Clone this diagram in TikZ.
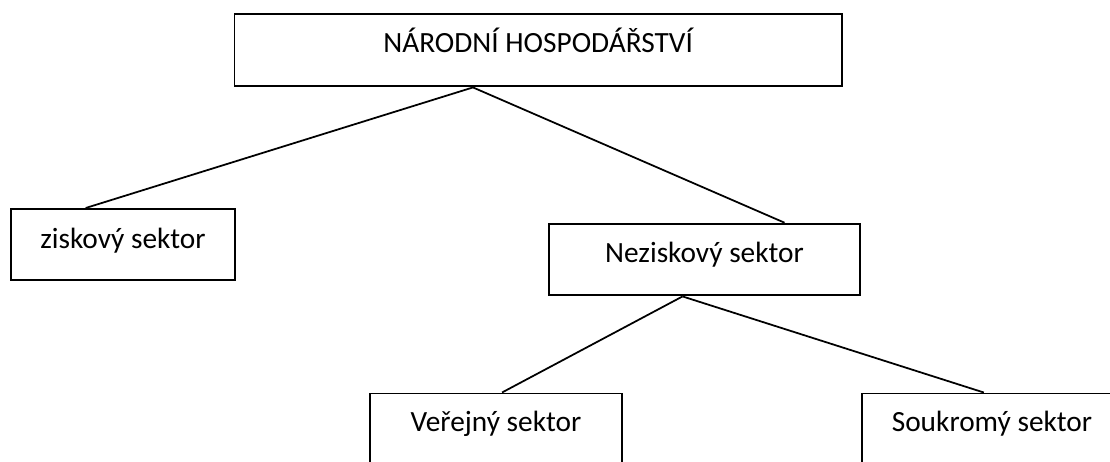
\documentclass[tikz,border=0pt]{standalone}
\usepackage{fontspec}
\setmainfont{Carlito}
\usetikzlibrary{calc}
\tikzset{
  sektor/.style={draw, line width=1.1pt, inner sep=0pt, anchor=north west,
    font=\fontsize{16.7}{20}\selectfont},
  vazba/.style={line width=1pt}
}
\begin{document}
\begin{tikzpicture}[x=0.02cm, y=-0.02cm]
  \useasboundingbox (0,0) rectangle (1110,461);
  \clip (0,0) rectangle (1110,461); % lower boxes run off the page
  \node[sektor, minimum width=12.15cm, text height=0.78cm, text depth=0.676cm] (narodni) at (233.5,12.7) {NÁRODNÍ HOSPODÁŘSTVÍ};
  \node[sektor, minimum width=4.48cm, text height=0.79cm, text depth=0.64cm] (ziskovy) at (10,208) {ziskový sektor};
  \node[sektor, minimum width=6.22cm, text height=0.78cm, text depth=0.656cm] (neziskovy) at (548,222.7) {Neziskový sektor};
  \node[sektor, minimum width=5.04cm, text height=0.764cm, text depth=1.2cm] (verejny) at (369,392.5) {Veřejný sektor};
  \node[sektor, minimum width=5.2cm, text height=0.77cm, text depth=1.2cm] (soukromy) at (861,392.5) {Soukromý sektor};
  % branch points
  \coordinate (vrchol) at ($(narodni.south west)!0.393!(narodni.south east)$);
  \coordinate (uzel) at ($(neziskovy.south west)!0.43!(neziskovy.south east)$);
  \draw[vazba] (vrchol) -- ($(ziskovy.north west)!0.335!(ziskovy.north east)$);
  \draw[vazba] (vrchol) -- ($(neziskovy.north west)!0.756!(neziskovy.north east)$);
  \draw[vazba] (uzel) -- ($(verejny.north west)!0.524!(verejny.north east)$);
  \draw[vazba] (uzel) -- ($(soukromy.north west)!0.469!(soukromy.north east)$);
\end{tikzpicture}
\end{document}
